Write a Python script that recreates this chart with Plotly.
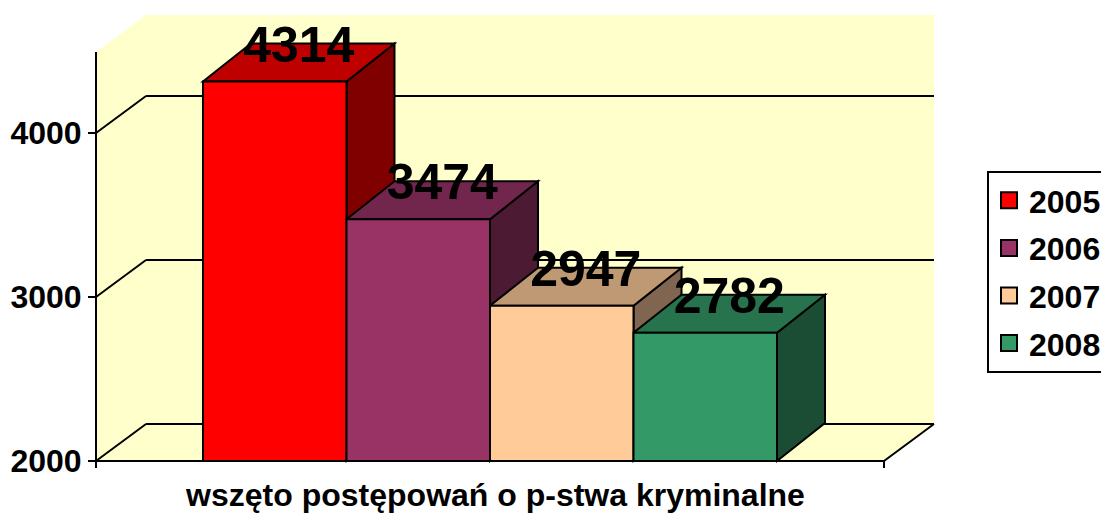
import plotly.graph_objects as go

years = ["2005", "2006", "2007", "2008"]
values = [4314, 3474, 2947, 2782]
category = "wszęto postępowań o p-stwa kryminalne"
y_ticks = [2000, 3000, 4000]

front = ["#FF0000", "#993366", "#FFCC99", "#339966"]
top = ["#BF0000", "#73264D", "#BF9973", "#26734D"]
side = ["#800000", "#4D1A33", "#806650", "#1A4D33"]
WALL = "#FFFFCC"
FONT = "Liberation Sans, Arial, sans-serif"

# pixel geometry of the plot rectangle and the scale of each axis
L, R, T, B = 80, 950, 5, 473
PX_PER_1000 = 164.0
Y0_PX = 461.0
SLOT = 143.5
X0_PX = 274.75
def xv(p): return (p - X0_PX) / SLOT
def yv(p): return 2000 + (Y0_PX - p) / PX_PER_1000 * 1000

BAR_DX = 48 / SLOT
BAR_DY = 38 / PX_PER_1000 * 1000
WALL_DX = 50 / SLOT
WALL_DY = 37 / PX_PER_1000 * 1000
LABEL_DROP = 5.5 / PX_PER_1000 * 1000
XA, XB = xv(96), xv(884)
YTOP = yv(15)


def poly(pts, fill, line=True):
    path = "M" + " L".join(f"{x},{y}" for x, y in pts) + " Z"
    return dict(type="path", path=path, xref="x", yref="y", layer="below",
                fillcolor=fill, line=dict(color="black" if line else fill, width=2 if line else 0))


def seg(x0, y0, x1, y1):
    return dict(type="line", x0=x0, y0=y0, x1=x1, y1=y1, xref="x", yref="y",
                layer="below", line=dict(color="black", width=2))


shapes = [
    poly([(XA + WALL_DX, 2000 + WALL_DY), (XA + WALL_DX, YTOP), (XB + WALL_DX, YTOP),
          (XB + WALL_DX, 2000 + WALL_DY)], WALL, False),
    poly([(XA, 2000), (XA, YTOP - WALL_DY), (XA + WALL_DX, YTOP),
          (XA + WALL_DX, 2000 + WALL_DY)], WALL, False),
    poly([(XA, 2000), (XB, 2000), (XB + WALL_DX, 2000 + WALL_DY),
          (XA + WALL_DX, 2000 + WALL_DY)], WALL, False),
]
for t in y_ticks:
    shapes.append(seg(XA, t, XA + WALL_DX, t + WALL_DY))
    shapes.append(seg(XA + WALL_DX, t + WALL_DY, XB + WALL_DX, t + WALL_DY))
shapes += [
    seg(XA, 2000, XA, YTOP - WALL_DY),
    seg(XB, 2000, XB + WALL_DX, 2000 + WALL_DY),
    seg(XA, 2000, XB, 2000),
    seg(XA, 2000, XA, yv(468)),
    seg(XB, 2000, XB, yv(468)),
]
for i, v in enumerate(values):
    r = i + 0.5
    l = i - 0.5
    shapes.append(poly([(r, 2000), (r + BAR_DX, 2000 + BAR_DY), (r + BAR_DX, v + BAR_DY), (r, v)], side[i]))
    shapes.append(poly([(l, v), (r, v), (r + BAR_DX, v + BAR_DY), (l + BAR_DX, v + BAR_DY)], top[i]))

fig = go.Figure()
for i, v in enumerate(values):
    fig.add_trace(go.Bar(
        x=[i], y=[v - 2000], base=2000, width=1, showlegend=False,
        marker=dict(color=front[i], line=dict(color="black", width=2)),
    ))
for i, yr in enumerate(years):
    fig.add_trace(go.Scatter(
        x=[None], y=[None], mode="markers", name=yr, legendgroup=yr,
        marker=dict(symbol="square", size=16, color=front[i], line=dict(color="black", width=2)),
    ))
fig.add_trace(go.Scatter(
    x=[i + BAR_DX / 2 for i in range(len(values))],
    y=[v + BAR_DY - LABEL_DROP for v in values],
    mode="text", text=[str(v) for v in values], textposition="middle center",
    textfont=dict(family=FONT, size=50, color="black", weight="bold"),
    showlegend=False, cliponaxis=False, hoverinfo="skip",
))

fig.update_layout(
    width=1101, height=513, autosize=False,
    margin=dict(l=L, r=1101 - R, t=T, b=513 - B, autoexpand=False),
    paper_bgcolor="white", plot_bgcolor="rgba(0,0,0,0)",
    barmode="overlay", shapes=shapes,
    font=dict(family=FONT, color="black"),
    xaxis=dict(range=[xv(L), xv(R)], showgrid=False, zeroline=False, showline=False,
               tickmode="array", tickvals=[xv(495.5)], ticktext=[f"<b>{category}</b>"],
               ticks="", tickfont=dict(family=FONT, size=32)),
    yaxis=dict(range=[yv(B), yv(T)], showgrid=False, zeroline=False, showline=False,
               anchor="free", position=(96 - L) / (R - L), side="left",
               tickmode="array", tickvals=y_ticks, ticktext=[f"<b>{t}</b>" for t in y_ticks],
               ticks="outside", ticklen=8, tickwidth=2, tickcolor="black",
               tickfont=dict(family=FONT, size=32)),
    legend=dict(x=(987 - L) / (R - L), xanchor="left", y=(B - 171) / (B - T), yanchor="top",
                bordercolor="black", borderwidth=2, bgcolor="white",
                font=dict(family=FONT, size=32, weight="bold", color="black"),
                tracegroupgap=3, traceorder="grouped", itemwidth=30,
                entrywidth=72, entrywidthmode="pixels"),
)
fig.write_html("out.html", config={"displayModeBar": False},
               post_script="document.body.style.margin='0';document.documentElement.style.overflow='hidden';")
